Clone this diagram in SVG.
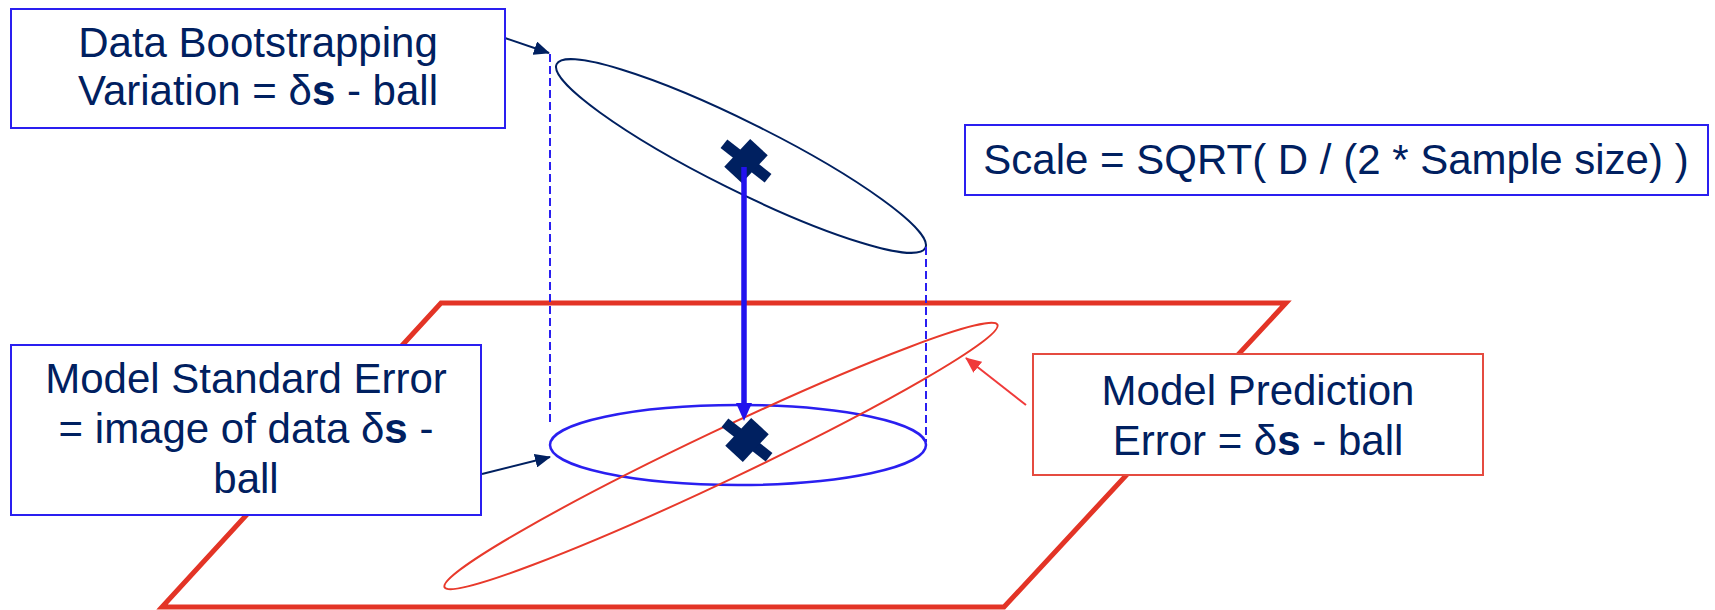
<svg xmlns="http://www.w3.org/2000/svg" width="1715" height="610" viewBox="0 0 1715 610">
<style>
.txt{font-family:"Liberation Sans",Arial,sans-serif;font-size:42px;fill:#002060;text-anchor:middle}
.bbox{fill:#fff;stroke:#2A1FF0;stroke-width:2}
.rbox{fill:#fff;stroke:#E54B40;stroke-width:2}
.dash{stroke:#2A1FF0;stroke-width:2;stroke-dasharray:8 4;fill:none}
.xm{fill:#002060}
</style>
<defs>
<marker id="navyHead" markerUnits="userSpaceOnUse" markerWidth="16" markerHeight="14" refX="15" refY="7" orient="auto">
<path d="M0,0 L16,7 L0,14 Z" fill="#002060"/>
</marker>
<marker id="redHead" markerUnits="userSpaceOnUse" markerWidth="16" markerHeight="14" refX="15" refY="7" orient="auto">
<path d="M0,0 L16,7 L0,14 Z" fill="#F03A3A"/>
</marker>
</defs>

<g id="plane">
<polygon points="441,303 1286,303 1004,607 162,607" fill="none" stroke="#E33426" stroke-width="5" stroke-linejoin="miter"/>
</g>

<g id="top-ellipse">
<ellipse cx="741" cy="156" rx="206" ry="34" transform="rotate(26.5 741 156)" fill="none" stroke="#002060" stroke-width="2"/>
</g>

<g id="lower-ellipse">
<ellipse cx="738" cy="445" rx="188" ry="40" fill="none" stroke="#2A1FF0" stroke-width="2.5"/>
</g>

<g id="prediction-ellipse">
<ellipse cx="721" cy="456" rx="306" ry="25" transform="rotate(-25.4 721 456)" fill="none" stroke="#E8392B" stroke-width="2"/>
</g>

<g id="connectors">
<line class="dash" x1="550" y1="54" x2="550" y2="425"/>
<line class="dash" x1="926" y1="247" x2="926" y2="442"/>
<line x1="505" y1="38" x2="549" y2="53" stroke="#002060" stroke-width="2" marker-end="url(#navyHead)"/>
<line x1="482" y1="474" x2="550" y2="457" stroke="#002060" stroke-width="2" marker-end="url(#navyHead)"/>
<line x1="1026" y1="405" x2="966" y2="358" stroke="#F03A3A" stroke-width="2" marker-end="url(#redHead)"/>
</g>

<g id="top-cross">
<g transform="translate(746 161)">
<rect class="xm" x="-28" y="-5.5" width="56" height="11" transform="rotate(38)"/>
<rect class="xm" x="-19" y="-12" width="38" height="24" transform="rotate(-47)"/>
</g>
</g>

<g id="bottom-cross">
<g transform="translate(747 440)">
<rect class="xm" x="-28" y="-5.5" width="56" height="11" transform="rotate(38)"/>
<rect class="xm" x="-19" y="-12" width="38" height="24" transform="rotate(-47)"/>
</g>
</g>

<g id="projection-arrow">
<line x1="744" y1="167" x2="744" y2="405" stroke="#2212EE" stroke-width="5.5"/>
<polygon points="736,403 752,403 744,421" fill="#2212EE"/>
</g>

<g id="box-bootstrap">
<rect class="bbox" x="11" y="9" width="494" height="119"/>
<text class="txt" x="258" y="57">Data Bootstrapping</text>
<text class="txt" x="258" y="105">Variation = δ<tspan font-weight="bold">s</tspan> - ball</text>
</g>

<g id="box-scale">
<rect class="bbox" x="965" y="125" width="743" height="70"/>
<text class="txt" x="1336" y="174">Scale = SQRT( D / (2 * Sample size) )</text>
</g>

<g id="box-standard-error">
<rect class="bbox" x="11" y="345" width="470" height="170"/>
<text class="txt" x="246" y="393">Model Standard Error</text>
<text class="txt" x="246" y="443">= image of data δ<tspan font-weight="bold">s</tspan> -</text>
<text class="txt" x="246" y="493">ball</text>
</g>

<g id="box-prediction">
<rect class="rbox" x="1033" y="354" width="450" height="121"/>
<text class="txt" x="1258" y="405">Model Prediction</text>
<text class="txt" x="1258" y="455">Error = δ<tspan font-weight="bold">s</tspan> - ball</text>
</g>
</svg>
